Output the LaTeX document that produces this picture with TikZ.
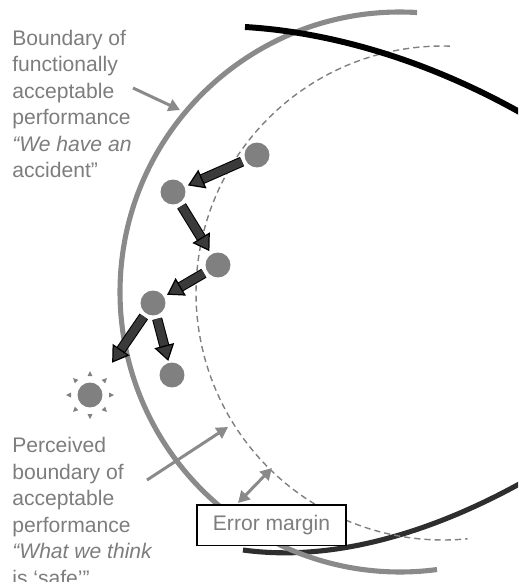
\documentclass[tikz,border=0pt]{standalone}
\usepackage{fontspec}
\setmainfont{Liberation Sans}
\usetikzlibrary{arrows.meta, positioning}

\definecolor{curvegray}{HTML}{8A8A8A}
\definecolor{dotgray}{HTML}{808080}
\definecolor{textgray}{HTML}{7D7D7D}
\definecolor{arrowdark}{HTML}{3A3A3A}
\definecolor{lowblack}{HTML}{2E2E2E}

\begin{document}
\begin{tikzpicture}
        [
        x=0.02cm, y=-0.02cm,
        dot/.style={circle, fill=dotgray, minimum size=14.2pt, inner sep=0pt},
        sidetext/.style={anchor=north west, align=left, inner sep=0pt, text=textgray, font=\fontsize{12}{15.1}\selectfont},
        boundary/.style={curvegray, line width=2.9pt},
        perceived/.style={draw=gray, line width=0.8pt, dash pattern=on 3.5pt off 2.3pt},
        drift/.style={arrowdark, line width=4.6pt, -{Triangle[length=9pt, width=11.5pt, color=black, fill=arrowdark, line width=0.7pt]},
                shorten <=2pt, shorten >=#1,
                preaction={draw=black, line width=5.8pt, arrows=-, shorten >=#1+8pt}},
        drift/.default=2pt,
        pointer/.style={curvegray, line width=1.7pt, -{Triangle[length=6.5pt, width=7pt]}},
        marginbox/.style={draw=black, line width=0.6pt, fill=white, text=textgray, minimum width=84.8pt, minimum height=22.8pt, font=\fontsize{12}{14}\selectfont}
        ]

        \useasboundingbox (0,0) rectangle (518,582);
        \clip (0,0) rectangle (518,582);

        % boundaries
        \draw[lowblack, line width=2.9pt] (243,550) .. controls (330,562) and (430,535) .. (530,478);
        \draw[boundary] (400,292) ++(-86.5:280) arc[start angle=-86.5, end angle=-277.6, radius=280];
        \draw[perceived] (443,293) ++(-88.4:247) arc[start angle=-88.4, end angle=-275.7, radius=247];
        \draw[black, line width=3.4pt] (245,27) .. controls (330,32) and (430,60) .. (530,118);

        % drifting operating point
        \node[dot] (d1) at (257,155) {};
        \node[dot] (d2) at (173,192) {};
        \node[dot] (d3) at (218,265) {};
        \node[dot] (d4) at (153,303) {};
        \node[dot] (d5) at (172,375) {};
        \node[dot] (sun) at (90,395) {};
        \foreach \a in {0,45,...,315}
                \fill[dotgray, shift={(sun)}, rotate=\a] (19,-2.5) -- (24,0) -- (19,2.5) -- cycle;

        \draw[drift] (d1) -- (d2);
        \draw[drift] (d2) -- (d3);
        \draw[drift] (d3) -- (d4);
        \draw[drift=15pt] (d4) -- (sun);
        \draw[drift=1pt] (d4) -- (d5);

        % labels
        \node[sidetext] (outer) at (12,29.5) {Boundary of\\functionally\\acceptable\\performance\\\itshape “We have an\\accident”};
        \node[sidetext] (inner) at (12,437) {Perceived\\boundary of\\acceptable\\performance\\\itshape “What we think\\is ‘safe’”};

        \coordinate (outertail) at (133,88);
        \coordinate (outerhead) at (180,110);
        \coordinate (innertail) at (147,480);
        \coordinate (innerhead) at (228,427);
        \coordinate (gapin) at (238,503);
        \coordinate (gapout) at (272,468);

        \draw[pointer] (outertail) -- (outerhead);
        \draw[pointer] (innertail) -- (innerhead);
        \draw[pointer, {Triangle[length=6.5pt, width=7pt]}-{Triangle[length=6.5pt, width=7pt]}] (gapin) -- (gapout);

        \node[marginbox] (margin) at (271.5,525) {Error margin};

    \end{tikzpicture}
\end{document}
